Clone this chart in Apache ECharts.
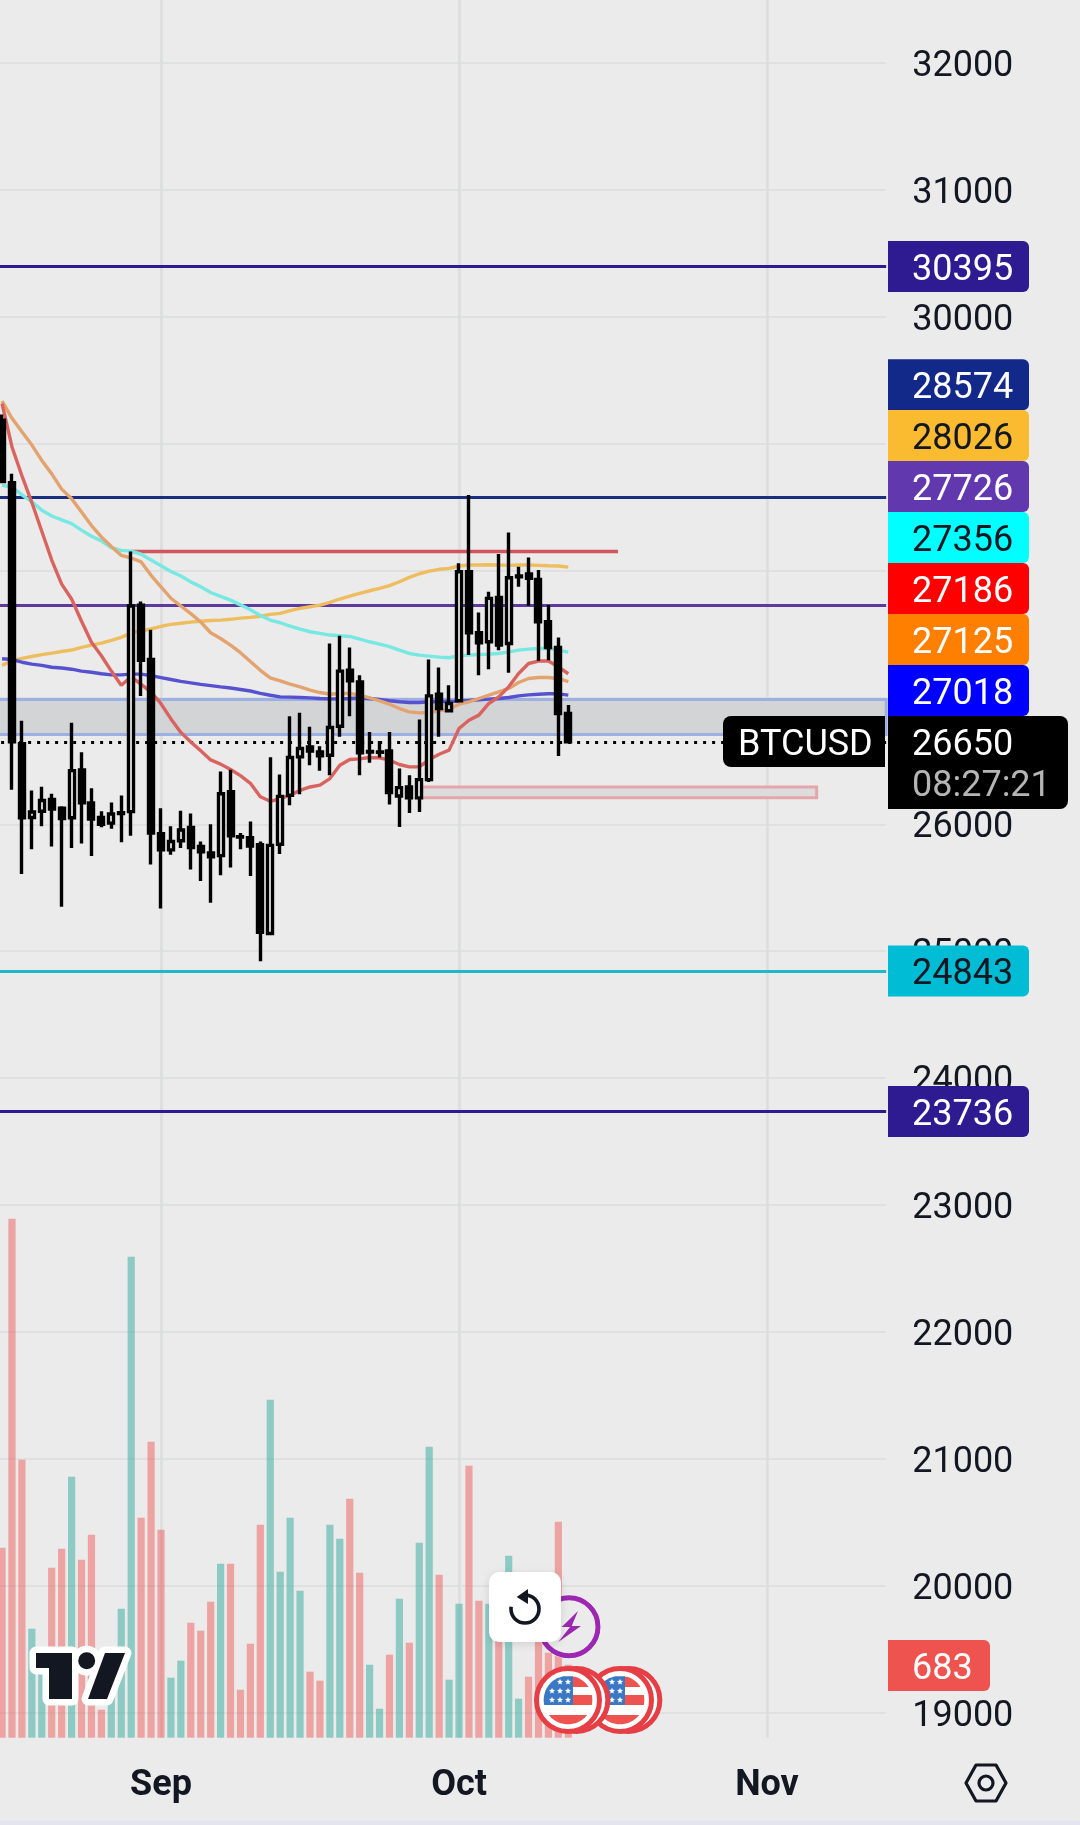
<!DOCTYPE html>
<html><head><meta charset="utf-8">
<style>html,body{margin:0;padding:0;background:#ebebeb}#c{width:1080px;height:1825px}</style>
<script src="https://cdn.jsdelivr.net/npm/echarts@6/dist/echarts.min.js"></script>
</head><body><div id="c"></div>
<script>
// ---- categories (first one, Aug 15, lies just off the left edge)
var monthSpans = [['Aug',15,31],['Sep',1,30],['Oct',1,31],['Nov',1,13]];
var days = [];
monthSpans.forEach(function(m){for(var d=m[1];d<=m[2];d++)days.push(m[0]+' '+d);});
var monthTicks = {'Sep 1':'Sep','Oct 1':'Oct','Nov 1':'Nov'};

// ---- daily candles, Aug 16 .. Oct 12
var opens = [29184,28692,26634,26054,26103,26196,26127,26051,26429,26169,26054,26009,26085,26100,27726,27298,
25925,25798,25870,25976,25825,25774,25753,26257,25903,25894,25840,25140,25843,26229,26531,26610,26570,26544,26773,27215,27122,26573,26570,26578,26223,26294,26208,26352,27025,26894,
26973,27990,27509,27438,27788,27425,27956,27972,27930,27596,27393,26873];
var closes = [28701,26649,26051,26097,26187,26121,26045,26423,26169,26042,26000,26081,26091,27720,27292,25931,
25798,25864,25955,25816,25783,25743,26241,25909,25900,25828,25149,25834,26220,26526,26597,26578,26539,26762,27207,27130,26563,26570,26568,26250,26289,26208,26352,27012,26912,26952,
27990,27509,27430,27780,27412,27943,27950,27938,27596,27393,26873,26650];
var lows = [28692,26272,25608,25804,25985,25825,25351,25813,25849,25750,25976,25964,25858,25909,27011,25683,
25336,25759,25813,25644,25553,25381,25599,25659,25804,25593,24920,25131,25765,26150,26237,26465,26421,26386,26689,26852,26386,26484,26526,26155,25979,26089,26097,26334,26689,26886,
26965,27333,27175,27222,27372,27194,27872,27722,27288,27293,26539,26636];
var highs = [29229,28761,26815,26266,26296,26241,26142,26800,26567,26284,26103,26172,26226,28149,27756,27533,
26127,25985,26106,26085,25864,26000,26416,26429,25931,26021,25864,26528,26392,26852,26878,26768,26615,27425,27485,27393,27175,26728,26657,26728,26439,26386,26826,27299,27236,27096,
28056,28595,27669,27832,28130,28300,28030,28103,28003,27727,27472,26939];

// ---- moving averages
var maRed = [29314,28973,28746,28535,28309,28082,27892,27775,27600,27434,27328,27207,27096,27162,27102,27041,
26950,26830,26724,26649,26579,26507,26474,26432,26383,26323,26217,26181,
26202,26229,26268,26294,26308,26360,26465,26510,26515,26526,26523,26505,26471,26452,26452,26510,26552,26584,26755,26820,26860,26952,27004,27083,27188,27267,27286,27286,27241,27186];
var maOrange = [29335,29199,29093,28988,28867,28761,28641,28565,28460,28354,28264,28188,28119,28098,28067,27962,
27871,27781,27720,27660,27594,27509,27464,27412,27352,27283,27213,27153,
27130,27104,27083,27057,27038,27025,27031,27031,27017,26996,26973,26946,26912,26886,26878,26881,26894,26907,26946,26965,26991,27017,27044,27070,27117,27149,27157,27157,27149,27125];
var maCyan = [28671,28656,28595,28541,28475,28429,28399,28369,28318,28270,28233,28179,28158,28152,28128,28082,
28037,27992,27956,27910,27871,27826,27796,27766,27729,27690,27645,27609,
27588,27562,27538,27517,27504,27491,27485,27480,27459,27438,27420,27399,27372,27346,27333,27325,27317,27312,27328,27333,27338,27341,27346,27359,27372,27380,27385,27385,27372,27356];
var maYellow = [27252,27289,27307,27322,27337,27349,27361,27373,27394,27412,27428,27449,27473,27509,27524,27539,
27560,27575,27584,27593,27600,27606,27609,27615,27624,27630,27639,27654,
27662,27683,27701,27714,27727,27748,27775,27798,27819,27840,27859,27880,27911,27945,27974,27995,28009,28016,28035,28043,28043,28045,28043,28040,28043,28043,28040,28037,28035,28026];
var maBlue = [27304,27298,27277,27262,27252,27237,27231,27222,27207,27198,27186,27177,27177,27183,27183,27171,
27156,27141,27126,27114,27102,27093,27083,27074,27062,27050,27032,27017,
27004,27002,26999,26996,26991,26988,26988,26991,26996,26991,26983,26973,26965,26960,26960,26965,26967,26967,26970,26975,26981,26986,26991,26999,27012,27020,27025,27028,27028,27018];

// ---- volume
var volumes = [1778,4858,2602,1020,599,1591,1769,2443,1666,1900,262,412,1207,4502,2059,2771,1947,562,721,1076,1002,1273,1629,1629,449,880,1994,3164,1554,2059,1376,618,534,1994,
1863,2237,1544,683,271,777,1301,889,1825,2724,1526,543,1254,2546,1282,1254,1030,1704,365,571,936,796,2022,683];
var volumeSides = 'rrrttrrtrrrtttrrrttrrrtrrrrttttrrt'+'trrttrtrttrttrrtrttrrrrr';

// ---- levels
var levelDarkIndigo = [30395,23736];
var levelNavy = 28574, levelPurple = 27726, levelTeal = 24843, levelRedShort = 28149, lastPrice = 26650;
var zoneBlue = [26983,26707], zoneRed = [26294,26210];
var tagTexts = ['30395','28574','28026','27726','27356','27186','27125','27018','24843','23736','683'];

var gridLine = '#dfe0e0';
function pad(a){return [null].concat(a);}
var candleData = opens.map(function(o,i){return [i+1,o,closes[i],lows[i],highs[i]];});

function maSeries(name,data,color){
  return {name:name,type:'line',xAxisIndex:0,yAxisIndex:0,data:pad(data),showSymbol:false,symbol:'none',smooth:false,
    connectNulls:false,silent:true,z:6,lineStyle:{color:color,width:3.4},animation:false};
}

// ---- pictogram furniture
var tagFont = '36px Roboto';
var textDy = 4;
function tag(i,yc,bg,fg,w){
  return [{type:'rect',z:100,shape:{x:888,y:yc-25.5,width:w||141,height:51,r:[0,6,6,0]},style:{fill:bg}},
    {type:'text',z:101,style:{x:912,y:yc+textDy,text:tagTexts[i],font:tagFont,fill:fg,verticalAlign:'middle',textAlign:'left'}}];
}
function segment(cx,cy,r,y1,y2,xmin){
  var pts=[],n=14,i,y,dx;
  for(i=0;i<=n;i++){y=y1+(y2-y1)*i/n;dx=Math.sqrt(Math.max(0,r*r-(y-cy)*(y-cy)));pts.push([cx+dx,y]);}
  for(i=n;i>=0;i--){y=y1+(y2-y1)*i/n;dx=Math.sqrt(Math.max(0,r*r-(y-cy)*(y-cy)));pts.push([xmin!==undefined?Math.max(cx+xmin,cx-dx):cx-dx,y]);}
  return pts;
}
function star(x,y,r){
  var p=[];for(var i=0;i<10;i++){var a=-Math.PI/2+i*Math.PI/5,q=i%2?r*.45:r;p.push([x+q*Math.cos(a),y+q*Math.sin(a)]);}
  return p;
}
function coin(cx,cy,z){
  var out=[],red='#e53e45',flagRed='#ef5350',blue='#3b78c4';
  [[25/3,z],[0,z+1]].forEach(function(c){
    out.push({type:'circle',z:c[1],shape:{cx:cx+c[0],cy:cy,r:31.5},style:{fill:'#fff',stroke:red,lineWidth:5}});
  });
  var zz=z+2,r=24.3;
  out.push({type:'polygon',z:zz,shape:{points:segment(cx,cy,r,cy-24,cy-13,5)},style:{fill:flagRed}});
  out.push({type:'polygon',z:zz,shape:{points:segment(cx,cy,r,cy-5,cy+5,5)},style:{fill:flagRed}});
  out.push({type:'polygon',z:zz,shape:{points:segment(cx,cy,r,cy+15,cy+24.2)},style:{fill:flagRed}});
  var bluePts=[[cx+5,cy-23.8],[cx+5,cy+5]],i;
  for(i=0;i<=14;i++){var y=cy+5-(28.8)*i/14;bluePts.push([cx-Math.sqrt(Math.max(0,r*r-(y-cy)*(y-cy))),y]);}
  out.push({type:'polygon',z:zz+1,shape:{points:bluePts},style:{fill:blue}});
  [[-8,-18],[0,-18],[-16,-9],[-8,-9],[0,-9],[-16,0],[-8,0],[0,0]].forEach(function(s){
    out.push({type:'polygon',z:zz+2,shape:{points:star(cx+s[0],cy+s[1],3.2)},style:{fill:'#fff'}});
  });
  return out;
}
var logoStroke = {stroke:'#fff',lineWidth:13,lineJoin:'round',fill:'#fff'};
var logoT = [[36,1653],[72,1653],[72,1699],[49,1699],[49,1668],[36,1668]];
var logoS = [[105,1653],[125,1653],[107,1699],[88,1699]];
var hex = [[966,1783],[976,1765],[996,1765],[1006,1783],[996,1801],[976,1801]];

var graphics = [].concat(
  [{type:'rect',z:90,shape:{x:0,y:1821,width:1080,height:4},style:{fill:'#e3e4ee'}}],
  tag(0,266.5,'#2e1b92','#fff'),
  tag(1,384.7,'#12298a','#fff'),
  tag(2,435.5,'#fbbb30','#131722'),
  tag(3,486.5,'#6138ae','#fff'),
  tag(4,537.5,'#00ffff','#131722'),
  tag(5,588.5,'#ff0000','#fff'),
  tag(6,639.5,'#ff8000','#fff'),
  tag(7,690.5,'#0000ff','#fff'),
  tag(8,971,'#00bcd4','#131722'),
  tag(9,1111.5,'#2e1b92','#fff'),
  tag(10,1665.5,'#ef5350','#fff',102),
  [
   {type:'rect',z:100,shape:{x:723,y:716,width:162,height:51,r:[8,0,0,8]},style:{fill:'#000'}},
   {type:'text',z:101,style:{x:738,y:742+textDy,text:'BTCUSD',font:tagFont,fill:'#fff',verticalAlign:'middle'}},
   {type:'rect',z:100,shape:{x:888,y:716,width:180,height:93,r:[0,8,8,0]},style:{fill:'#000'}},
   {type:'text',z:101,style:{x:912,y:742+textDy,text:'26650',font:tagFont,fill:'#fff',verticalAlign:'middle'}},
   {type:'text',z:101,style:{x:912,y:783+textDy,text:'08:27:21',font:tagFont,fill:'#b5b5b5',verticalAlign:'middle'}},
   // logo
   {type:'polygon',z:102,shape:{points:logoT},style:logoStroke},
   {type:'polygon',z:102,shape:{points:logoS},style:logoStroke},
   {type:'circle',z:102,shape:{cx:86.7,cy:1660.7,r:8.5},style:logoStroke},
   {type:'polygon',z:103,shape:{points:logoT},style:{fill:'#131722'}},
   {type:'polygon',z:103,shape:{points:logoS},style:{fill:'#131722'}},
   {type:'circle',z:103,shape:{cx:86.7,cy:1660.7,r:8.5},style:{fill:'#131722'}},
   // settings
   {type:'polygon',z:100,shape:{points:hex},style:{fill:'none',stroke:'#131722',lineWidth:3.2,lineJoin:'round'}},
   {type:'circle',z:100,shape:{cx:986,cy:1783,r:7},style:{fill:'none',stroke:'#131722',lineWidth:3.2}},
   // lightning badge
   {type:'circle',z:110,shape:{cx:569,cy:1626.7,r:32},style:{fill:'#fff'}},
   {type:'circle',z:111,shape:{cx:569,cy:1626.7,r:29},style:{fill:'#ebebeb',stroke:'#9c27b0',lineWidth:5}},
   {type:'polygon',z:112,shape:{points:[[578,1611],[561.7,1627],[570,1627],[558.3,1642],[581,1626],[571.7,1626]]},style:{fill:'#9c27b0'}},
   // reset button
   {type:'rect',z:130,shape:{x:489,y:1572,width:72,height:70,r:10},style:{fill:'#fff',shadowBlur:8,shadowColor:'rgba(0,0,0,.12)',shadowOffsetY:2}},
   {type:'arc',z:131,shape:{cx:525,cy:1609,r:14,startAngle:-Math.PI/2,endAngle:Math.PI*1.05,clockwise:true},style:{fill:'none',stroke:'#131722',lineWidth:3.6}},
   {type:'polygon',z:131,shape:{points:[[516.7,1597],[528,1589],[528,1604]]},style:{fill:'#131722'}}
  ],
  coin(620,1700,116),
  coin(568,1700,120)
);

var option = {
  animation:false,
  backgroundColor:'#ebebeb',
  tooltip:{show:false},
  legend:{show:false},
  grid:[
    {left:-7.88,top:-64.12,width:894.06,height:1903.72,containLabel:false,outerBoundsMode:'none'},
    {left:-7.88,top:0,width:894.06,height:1737.7,containLabel:false,outerBoundsMode:'none'}
  ],
  xAxis:[
    {type:'category',gridIndex:0,data:days,boundaryGap:false,axisLine:{show:false},axisTick:{show:false},axisLabel:{show:false},splitLine:{show:false}},
    {type:'category',gridIndex:1,data:days,boundaryGap:false,axisLine:{show:false},axisTick:{show:false},
      axisLabel:{show:true,interval:function(i,v){return !!monthTicks[v];},formatter:function(v){return monthTicks[v]||'';},
        margin:48.5,verticalAlign:'middle',color:'#131722',fontFamily:'Roboto',fontWeight:700,fontSize:36},
      splitLine:{show:true,interval:function(i,v){return !!monthTicks[v];},lineStyle:{color:'#dcdddd',width:2.6}}}
  ],
  yAxis:[
    {type:'value',gridIndex:0,position:'right',min:18000,max:33000,interval:1000,
      axisLine:{show:false},axisTick:{show:false},
      axisLabel:{show:true,margin:26,align:'left',formatter:function(v){return '{p|'+v+'}';},
        rich:{p:{padding:[8,0,0,0],color:'#131722',fontFamily:'Roboto',fontSize:36}}},
      splitLine:{show:true,lineStyle:{color:gridLine,width:2}}},
    {type:'value',gridIndex:1,min:0,max:16265,show:false,splitLine:{show:false}}
  ],
  series:[
    {name:'Volume',type:'bar',xAxisIndex:1,yAxisIndex:1,data:pad(volumes),barWidth:7.2,silent:true,z:2,
      itemStyle:{color:function(p){return volumeSides[p.dataIndex-1]==='t'?'rgba(38,166,154,0.47)':'rgba(239,83,80,0.47)';}}},
    {name:'Levels',type:'line',xAxisIndex:0,yAxisIndex:0,data:[],silent:true,z:3,
      markArea:{silent:true,z:3,data:[
        [{yAxis:zoneBlue[0],itemStyle:{color:'#d3d4d6',borderColor:'#9db0e4',borderWidth:3}},{yAxis:zoneBlue[1]}],
        [{xAxis:'Sep 27',yAxis:zoneRed[0],itemStyle:{color:'#dddcdd',borderColor:'#e5a6a9',borderWidth:3}},{xAxis:'Nov 6',yAxis:zoneRed[1]}]
      ]},
      markLine:{silent:true,z:4,symbol:'none',animation:false,label:{show:false},data:[
        {yAxis:levelDarkIndigo[0],lineStyle:{color:'#2e1b92',width:3,type:'solid'}},
        {yAxis:levelDarkIndigo[1],lineStyle:{color:'#2e1b92',width:3,type:'solid'}},
        {yAxis:levelNavy,lineStyle:{color:'#1a2f80',width:3,type:'solid'}},
        {yAxis:levelPurple,lineStyle:{color:'#5e3a9e',width:3,type:'solid'}},
        {yAxis:levelTeal,lineStyle:{color:'#1fb8c6',width:3,type:'solid'}},
        {yAxis:lastPrice,lineStyle:{color:'#000',width:3,type:[3,6]}},
        [{coord:['Aug 29',levelRedShort],lineStyle:{color:'#cf565c',width:3.4,type:'solid'}},{coord:['Oct 17',levelRedShort]}]
      ]}},
    maSeries('MA yellow',maYellow,'#eebd5e'),
    maSeries('MA blue',maBlue,'#5652cf'),
    maSeries('MA cyan',maCyan,'#78e8e2'),
    maSeries('MA orange',maOrange,'#e3a36f'),
    maSeries('MA red',maRed,'#d9635f'),
    {name:'BTCUSD',type:'candlestick',xAxisIndex:0,yAxisIndex:0,data:candleData,encode:{x:0,y:[1,2,3,4]},barWidth:5.5,silent:true,z:20,clip:true,
      itemStyle:{color:'#ffffff',color0:'#000000',borderColor:'#000000',borderColor0:'#000000',borderWidth:3.4}}
  ],
  graphic:{elements:graphics}
};
var chart = echarts.init(document.getElementById('c'),null,{renderer:'canvas',width:1080,height:1825});
chart.setOption(option);
</script></body></html>
